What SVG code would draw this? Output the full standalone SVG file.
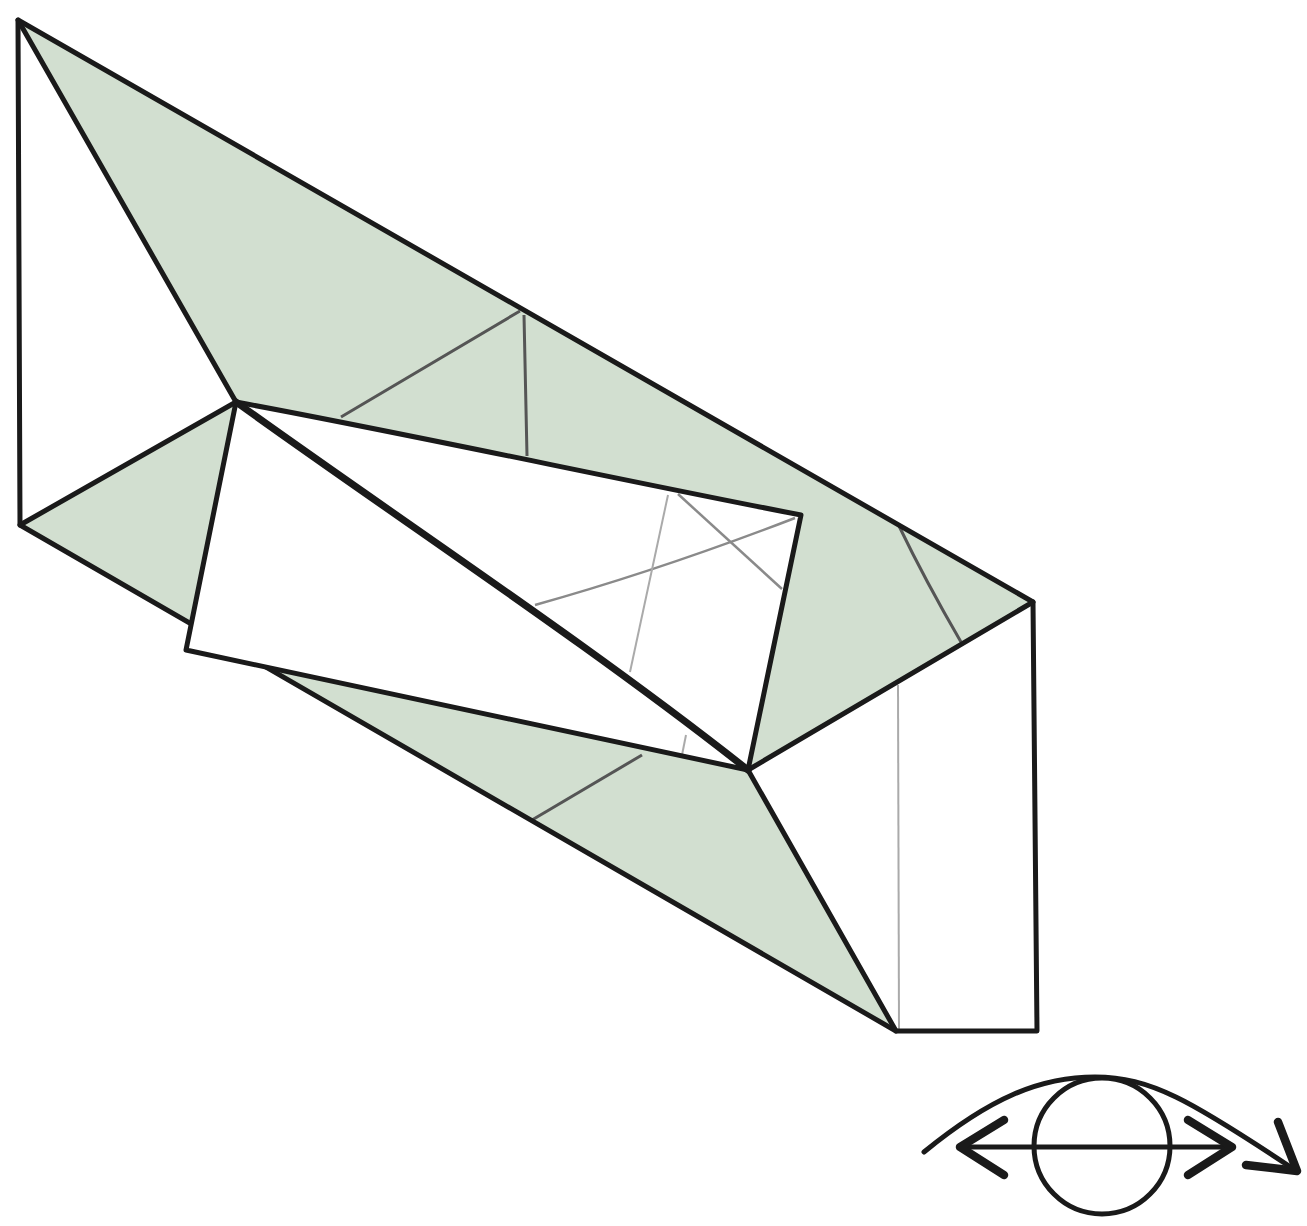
<svg xmlns="http://www.w3.org/2000/svg" width="1307" height="1226" viewBox="0 0 1307 1226">
<style>
.fill{fill:#d2dfd0;stroke:none}
.paper{fill:#fff;stroke:none}
.k{fill:none;stroke:#1a1a1a;stroke-linecap:round;stroke-linejoin:round}
.t4{stroke-width:5}
.t5{stroke-width:7}
.g1{fill:none;stroke:#555;stroke-width:3}
.g2{fill:none;stroke:#8a8a8a;stroke-width:2.5}
.g3{fill:none;stroke:#aaa;stroke-width:2}
.e{stroke-width:5}
.a{stroke-width:8.5}
</style>
<rect width="1307" height="1226" fill="#fff"/>
<g id="green">
<polygon class="fill" points="18,20 1033,602 748,770 236,402"/>
<polygon class="fill" points="236,402 20,525 896,1029 748,770"/>
</g>
<g id="outer-creases">
<path class="g1" d="M341,417 L520,311 M524,315 L527,456"/>
<path class="g1" d="M899,526 Q925,580 961,642"/>
<path class="g1" d="M532,820 L642,755"/>
<path class="g3" d="M898,685 L899,1030"/>
</g>
<g id="outer-outline">
<path class="k t4" d="M18,20 L1033,602 L1037,1031 L896,1031 L20,525 Z"/>
<path class="k t4" d="M18,20 L236,402 L20,525"/>
<path class="k t4" d="M748,770 L1033,602"/>
<path class="k t4" d="M748,770 L896,1031"/>
</g>
<g id="flap">
<path class="paper" d="M236,402 C400,432 620,480 801,515 L748,770 L186,650 Z"/>
<path class="g2" d="M535,605 Q660,570 795,518"/>
<path class="g2" d="M678,494 L782,589"/>
<path class="g3" d="M668,495 L630,672"/>
<path class="g3" d="M686,735 L682,755"/>
<path class="k t4" d="M236,402 C400,432 620,480 801,515 L748,770 L186,650 Z"/>
<path class="k t5" d="M236,402 C400,520 590,645 748,770"/>
</g>
<g id="eye">
<path class="k e" d="M924,1152 C990,1098 1040,1077 1095,1077 C1150,1077 1190,1100 1292,1168"/>
<circle class="k e" cx="1102" cy="1146" r="68"/>
<path class="k e" d="M960,1147 L1230,1147"/>
<path class="k a" d="M1004,1120 L960,1147 L1004,1175"/>
<path class="k a" d="M1188,1120 L1232,1147 L1188,1175"/>
<path class="k a" d="M1278,1122 L1297,1171 L1246,1165"/>
</g>
</svg>
